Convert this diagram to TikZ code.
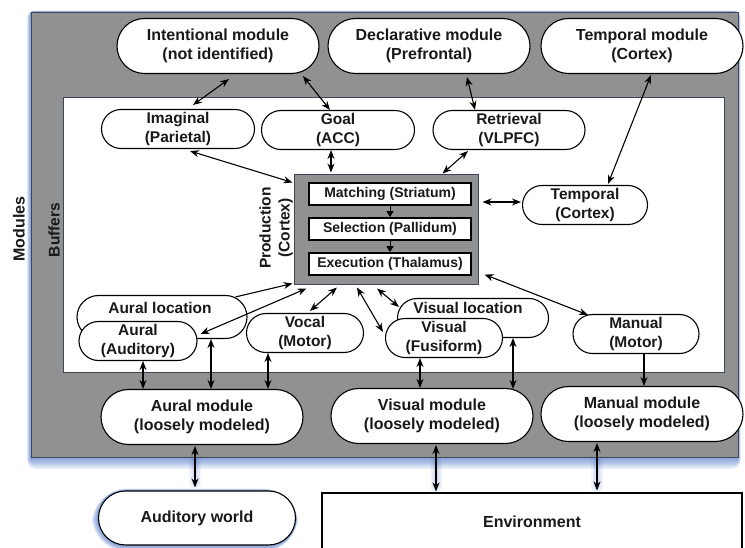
\documentclass[tikz,border=0pt]{standalone}
\usepackage{fontspec}
\setmainfont{Liberation Sans}
\usetikzlibrary{arrows.meta,calc}

\definecolor{panelgray}{RGB}{145,145,145}
\definecolor{glow}{RGB}{40,90,190}
\definecolor{frameedge}{RGB}{60,72,86}
\definecolor{ink}{RGB}{25,25,25}

\pgfdeclarelayer{background}
\pgfsetlayers{background,main}

\begin{document}
\begin{tikzpicture}[x=1pt,y=-1pt,
  every node/.style={inner sep=0pt, align=center, text=ink,
    font=\bfseries\fontsize{16}{19}\selectfont},
  frame/.style={draw=frameedge, line width=0.7pt},
  module/.style={draw=black, line width=1.1pt, fill=white,
    minimum width=202pt, minimum height=55pt, rounded corners=27.5pt},
  bufferfont/.style={font=\bfseries\fontsize{15.5}{19}\selectfont},
  buffer/.style={draw=black, line width=1.1pt, fill=white, bufferfont,
    minimum width=#1, minimum height=39pt, rounded corners=19.5pt},
  stage/.style={draw=black, line width=1.8pt, fill=white,
    minimum width=162pt, minimum height=22pt,
    font=\bfseries\fontsize{14}{16}\selectfont},
  sidelabel/.style={rotate=90},
  link/.style={line width=1.1pt,
    {Stealth[length=9pt,width=7pt]}-{Stealth[length=9pt,width=7pt]}},
  feed/.style={line width=1.1pt, -{Stealth[length=9pt,width=7pt]}},
  stagearrow/.style={line width=0.8pt, -{Triangle[length=6pt,width=7pt]}}
]
\useasboundingbox (0,0) rectangle (745,548);

% module and buffer areas
\node[frame, fill=panelgray, minimum width=707pt, minimum height=445pt] (panel) at (384.5,234.5) {};
\node[frame, fill=white, minimum width=661pt, minimum height=275pt] (bufzone) at (393.5,234.5) {};

\node[sidelabel] (modlabel) at (19,229) {Modules};
\node[sidelabel, bufferfont] (buflabel) at (54,230) {Buffers};

% modules (top row)
\node[module] (intent) at (218,46) {Intentional module\\(not identified)};
\node[module] (decl) at (429,46) {Declarative module\\(Prefrontal)};
\node[module] (tempmod) at (642,46) {Temporal module\\(Cortex)};

% buffers (top row)
\node[buffer=153pt] (imag) at (178,129) {Imaginal\\(Parietal)};
\node[buffer=153pt] (goal) at (338,130) {Goal\\(ACC)};
\node[buffer=152pt] (retr) at (509,130) {Retrieval\\(VLPFC)};
\node[buffer=125pt] (tempbuf) at (585,205) {Temporal\\(Cortex)};

% production system
\node[draw=frameedge, line width=1pt, fill=panelgray, minimum width=184pt, minimum height=110pt] (prod) at (386,230) {};
\node[sidelabel, bufferfont] (prodlabel) at (276,228) {Production\\(Cortex)};
\node[stage] (match) at (390,194) {Matching (Striatum)};
\node[stage] (sel) at (390,229) {Selection (Pallidum)};
\node[stage] (exec) at (390,264) {Execution (Thalamus)};
\draw[stagearrow] (match.south) -- (sel.north);
\draw[stagearrow] (sel.south) -- (exec.north);

% buffers (bottom row)
\node[buffer=170pt, minimum height=43pt, rounded corners=21.5pt] (auralloc) at (162,317) {};
\node[bufferfont] (auralloclbl) at (160,308) {Aural location};
\node[buffer=118pt] (aural) at (138,341) {Aural\\(Auditory)};
\node[buffer=117pt] (vocal) at (305,333) {Vocal\\(Motor)};
\node[buffer=151pt] (visloc) at (473,318) {};
\node[bufferfont] (vislocllbl) at (468,308) {Visual location};
\node[buffer=117pt] (visual) at (444,338) {Visual\\(Fusiform)};
\node[buffer=126pt] (manual) at (636,334) {Manual\\(Motor)};

% modules (bottom row)
\node[module] (auralmod) at (202,417) {Aural module\\(loosely modeled)};
\node[module] (vismod) at (432,416) {Visual module\\(loosely modeled)};
\node[module] (manmod) at (642,414) {Manual module\\(loosely modeled)};

% outside world
\node[module, minimum width=197pt, minimum height=54pt, rounded corners=27pt] (audworld) at (197,518) {Auditory world};
\node[draw=black, line width=1.1pt, fill=white, minimum width=420pt, minimum height=58pt] (env) at (532,522) {Environment};

% module <-> buffer links
\draw[link] ($(intent.south)+(11,5)$) -- ($(imag.north)+(15,-4)$);
\draw[link] ($(intent.south)+(85,2)$) -- ($(goal.north)+(-8,0)$);
\draw[link] ($(decl.south)+(38,3)$) -- ($(retr.north)+(-34,0)$);
\draw[link] ($(tempmod.south)+(9,1)$) -- ($(tempbuf.north)+(23,-1)$);

% buffer <-> production links
\draw[link] ($(goal.south)+(-7,0)$) -- ($(prod.north)+(-55,-2)$);
\draw[link] ($(imag.south)+(12,2)$) -- ($(prod.north west)+(-1,8)$);
\draw[link] ($(retr.south)+(-41,1)$) -- ($(prod.north east)+(-36,-1)$);
\draw[link] ($(prod.east |- tempbuf.west)+(4,-3)$) -- ($(tempbuf.west)+(-1,-3)$);
\draw[link] ($(prod.south east)+(6,-11)$) -- ($(manual.north)+(-48,1)$);
\draw[feed] ($(auralloc.north east)+(-12,2)$) -- ($(prod.south west)+(-1,-2)$);
\draw[link] ($(aural.east)+(3,-7)$) -- ($(prod.south west)+(13,3)$);
\draw[link] ($(prod.south)+(-49,2)$) -- ($(vocal.north)+(5,-2)$);
\draw[link] ($(prod.south)+(-29,2)$) -- ($(visual.west)+(-2,-6)$);
\draw[link] ($(prod.south)+(-9,3)$) -- ($(visloc.north west)+(2,9)$);

% buffer <-> perceptual/motor module links
\draw[link] ($(aural.south)+(5,0)$) -- ($(auralmod.north)+(-59,0)$);
\draw[link] ($(auralloc.south)+(49,0)$) -- ($(auralmod.north)+(9,0)$);
\draw[link] ($(vocal.south)+(-37,0)$) -- ($(auralmod.north)+(66,0)$);
\draw[link] ($(visual.south)+(-24,0)$) -- ($(vismod.north)+(-12,0)$);
\draw[link] ($(visloc.south)+(40,0)$) -- ($(vismod.north)+(81,1)$);
\draw[feed] ($(manual.south)+(8,0)$) -- ($(manmod.north)+(2,0)$);

% modules <-> outside world
\draw[link] ($(auralmod.south)+(-7,1)$) -- ($(audworld.north)+(-2,-3)$);
\draw[link] ($(vismod.south)+(4,1)$) -- ($(env.north)+(-96,-1)$);
\draw[link] ($(manmod.south)+(-45,1)$) -- ($(env.north)+(65,-2)$);

% white page, then a soft blue glow behind the module panel,
% the links leaving it and the auditory world
\begin{pgfonlayer}{background}
  \fill[white] (0,0) rectangle (745,548);
  \foreach \s in {1,...,9}{
    \fill[glow, opacity=0.08, rounded corners={\s pt}]
      ($(panel.north west)+(-\s*0.4,-\s*0.12)$) rectangle ($(panel.south east)+(\s*0.25,\s*1.3)$);
    \fill[glow, opacity=0.08, rounded corners={27pt+\s pt}]
      ($(audworld.north west)+(-\s*0.7,-\s*0.2)$) rectangle ($(audworld.south east)+(\s*0.2,\s*0.7)$);
  }
  \foreach \w in {3,6,9,12}{
    \draw[glow, opacity=0.06, line width=\w pt, line cap=round]
      ($(vismod.south)+(4,8)$) -- ($(env.north)+(-96,-6)$);
    \draw[glow, opacity=0.06, line width=\w pt, line cap=round]
      ($(manmod.south)+(-45,8)$) -- ($(env.north)+(65,-6)$);
    \draw[glow, opacity=0.06, line width=\w pt, line cap=round]
      ($(auralmod.south)+(-7,8)$) -- ($(audworld.north)+(-2,-8)$);
  }
\end{pgfonlayer}
\end{tikzpicture}
\end{document}
